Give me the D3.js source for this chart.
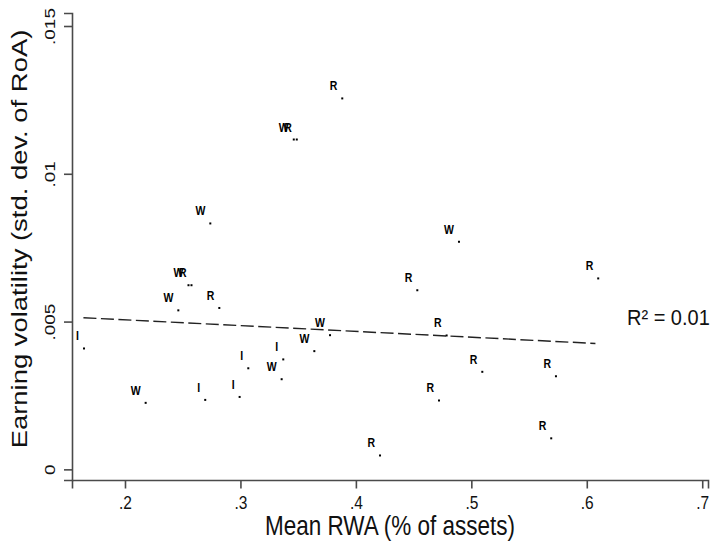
<!DOCTYPE html>
<html>
<head>
<meta charset="utf-8">
<script src="https://cdn.jsdelivr.net/npm/d3@7"></script>
<style>
  html, body { margin: 0; padding: 0; background: #fff; }
  svg { display: block; font-family: "Liberation Sans", Arial, sans-serif; }
</style>
</head>
<body>
<svg id="chart" width="710" height="543"></svg>
<script>
// ---- data ----
const labels = ["R","W","R","W","W","W","R","W","R","I","W","W","I","I","W","W","I","I","R","R","R","R","R","R","R","R"];
const rwa    = [0.3882,0.3462,0.3488,0.2739,0.4893,0.2550,0.2576,0.2462,0.2817,0.1645,0.3776,0.3640,0.3371,0.3068,0.3357,0.2179,0.2695,0.2993,0.4209,0.4532,0.6099,0.4786,0.5095,0.5733,0.4720,0.5692];
const vol    = [0.01255,0.01116,0.01116,0.00832,0.00770,0.00623,0.00623,0.00538,0.00546,0.00409,0.00454,0.00400,0.00372,0.00342,0.00305,0.00225,0.00235,0.00245,0.00047,0.00606,0.00646,0.00453,0.00330,0.00315,0.00233,0.00105];

const fitX = [0.1640, 0.6075];
const fitY = [0.00513, 0.00426];

const xTicks = [0.2, 0.3, 0.4, 0.5, 0.6, 0.7];
const xTickLabels = [".2", ".3", ".4", ".5", ".6", ".7"];
const yTicks = [0, 0.005, 0.01, 0.015];
const yTickLabels = ["0", ".005", ".01", ".015"];
const xTitle = "Mean RWA (% of assets)";
const yTitle = "Earning volatility (std. dev. of RoA)";
const r2Text = "R\u00B2 = 0.01";

// ---- layout ----
const svg = d3.select("#chart");
const mLeft = 72, mRight = 708, mTop = 13, mBottom = 480;
const x = d3.scaleLinear().domain([0.1541, 0.705]).range([mLeft, mRight]);
const y = d3.scaleLinear().domain([-0.00036, 0.01544]).range([mBottom, mTop]);

const axisColor = "#4a4a4a";
const fontFam = "'Liberation Sans', Arial, sans-serif";
const S = 1.22; // vertical stretch of the reference's lettering

// x axis
const xAxis = d3.axisBottom(x).tickValues(xTicks)
  .tickFormat((d, i) => xTickLabels[i]).tickSizeOuter(0).tickSize(8.5);
const gx = svg.append("g").attr("transform", `translate(0,${mBottom})`).call(xAxis);
gx.select(".domain").attr("stroke", axisColor).attr("stroke-width", 1.6);
gx.selectAll(".tick line").attr("stroke", axisColor).attr("stroke-width", 1.6);
gx.selectAll(".tick text").attr("fill", "#111").style("font-size", "15.5px")
  .style("font-family", fontFam)
  .attr("y", null).attr("dy", null)
  .attr("transform", `translate(0,29) scale(1,${S})`);

// y axis
const yAxis = d3.axisLeft(y).tickValues(yTicks)
  .tickFormat((d, i) => yTickLabels[i]).tickSizeOuter(0).tickSize(8);
const gy = svg.append("g").attr("transform", `translate(${mLeft},0)`).call(yAxis);
gy.select(".domain").attr("stroke", axisColor).attr("stroke-width", 1.6);
gy.selectAll(".tick line").attr("stroke", axisColor).attr("stroke-width", 1.6);
gy.selectAll(".tick text")
  .attr("fill", "#111").style("font-size", "15.5px")
  .style("font-family", fontFam)
  .attr("x", null).attr("dy", null)
  .attr("text-anchor", "middle")
  .attr("transform", `translate(-17.5,0) scale(1,${S}) rotate(-90)`);

// axis titles
svg.append("text")
  .attr("transform", `translate(${(mLeft + mRight) / 2},535) scale(1,${S})`)
  .attr("text-anchor", "middle").style("font-size", "22.5px").attr("fill", "#111")
  .style("font-family", fontFam).text(xTitle);
svg.append("text")
  .attr("transform", `translate(27,239) scale(1,${S}) rotate(-90)`)
  .attr("text-anchor", "middle").style("font-size", "22.5px").attr("fill", "#111")
  .style("font-family", fontFam).text(yTitle);

// fitted line
svg.append("line")
  .attr("x1", x(fitX[0])).attr("y1", y(fitY[0]))
  .attr("x2", x(fitX[1])).attr("y2", y(fitY[1]))
  .attr("stroke", "#222").attr("stroke-width", 1.4)
  .attr("stroke-dasharray", "13,4.5");

// points + labels
const pts = labels.map((l, i) => ({ l, x: rwa[i], y: vol[i] }));
const g = svg.append("g");
g.selectAll("rect.pt").data(pts).join("rect").attr("class", "pt")
  .attr("x", d => x(d.x) - 1).attr("y", d => y(d.y) - 1)
  .attr("width", 2).attr("height", 2).attr("fill", "#000");
g.selectAll("text.lab").data(pts).join("text").attr("class", "lab")
  .attr("transform", d => `translate(${x(d.x) - 5},${y(d.y) - 8}) scale(1,${S})`)
  .attr("text-anchor", "end")
  .style("font-size", "10.5px").style("font-weight", "bold")
  .style("font-family", fontFam)
  .attr("fill", "#000").text(d => d.l);

// R^2 annotation
svg.append("text")
  .attr("transform", `translate(627,325) scale(1,1.12)`)
  .style("font-size", "20px").attr("fill", "#111")
  .style("font-family", fontFam).text(r2Text);
</script>
</body>
</html>
